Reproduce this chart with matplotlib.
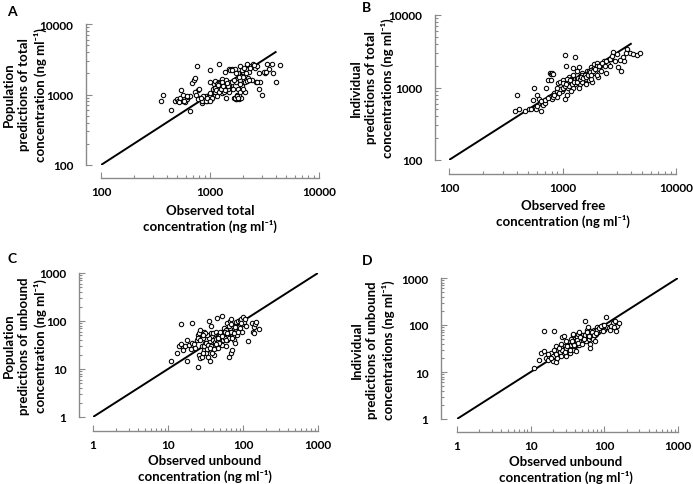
import matplotlib
matplotlib.use("Agg")
import matplotlib.pyplot as plt
from matplotlib.ticker import LogLocator, FixedLocator, NullFormatter

plt.rcParams['font.family'] = ['Lato', 'DejaVu Sans']
plt.rcParams['font.weight'] = 'bold'

# ---------------- data ----------------
obs_A = [370, 355, 440, 480, 500, 510, 530, 540, 560, 570, 590, 610, 630, 650, 660, 690, 710, 730, 760, 770,
         790, 730, 800, 820, 840, 860, 880, 900, 920, 940, 960, 980, 1000, 1000, 1020, 1040, 1060, 1080, 1100, 1100,
         1120, 1150, 1170, 1200, 1200, 1220, 1240, 1260, 1280, 1300, 1320, 1350, 1380, 1400, 1420, 1450, 1480, 1500, 1550, 1600,
         1650, 1700, 1720, 1750, 1780, 1800, 1820, 1850, 1880, 1900, 1920, 1950, 2000, 2050, 2100, 2150, 2200, 2250, 2300, 2400,
         2450, 2500, 2600, 2650, 2700, 2800, 2900, 3000, 3200, 3300, 3500, 3700, 3800, 4000, 4400,
         1150, 1250, 1300, 1350, 1400, 1100, 1180, 1300, 1450, 1500, 900, 950, 1000, 1050, 850, 870, 1750, 1800, 1850, 1900,
         2000, 2100, 2200, 2300, 1600, 1650, 2700, 2800, 2000, 2150,
         520, 580, 620, 750, 780, 830, 910, 930, 990, 1010, 1130, 1160, 1210, 1230, 1270, 1330, 1370, 1410, 1470, 1530,
         1580, 1620, 1680, 1730, 1760, 1790, 1830, 1870, 1960, 2050, 2350, 2550, 3100, 3250, 1430, 1190]
pred_A = [1000, 800, 600, 820, 850, 800, 880, 1150, 1000, 800, 780, 850, 920, 580, 950, 1450, 1600, 1700, 2500, 1150,
          1200, 1100, 900, 850, 750, 800, 900, 850, 950, 800, 900, 1000, 2250, 1500, 850, 900, 1200, 1400, 1550, 1000,
          1100, 1300, 950, 1500, 1250, 2700, 1150, 1350, 1650, 1050, 1200, 1400, 2100, 900, 1250, 1500, 2300, 1100, 1350, 2300,
          900, 2300, 850, 1500, 1000, 2000, 1200, 850, 1600, 2500, 900, 1300, 2100, 1600, 1100, 2300, 2700, 1700, 2100, 2500,
          1600, 2700, 2400, 1500, 2550, 1200, 1500, 1000, 2000, 2700, 2300, 2700, 2000, 1500, 2600,
          1200, 1300, 1250, 1100, 1350, 1250, 1450, 1500, 1200, 1350, 880, 850, 950, 880, 820, 950, 850, 900, 1000, 1100,
          1200, 1500, 1550, 1600, 1500, 1600, 1500, 2000, 1800, 2000,
          780, 820, 950, 1000, 850, 880, 820, 900, 820, 1050, 1150, 1400, 1100, 1300, 1200, 1300, 1150, 1600, 1300, 2200,
          2250, 1200, 880, 2000, 950, 880, 1800, 1400, 2200, 2400, 2400, 2600, 2100, 2100, 1450, 1350]

obs_B = [380, 400, 410, 470, 510, 530, 550, 560, 570, 590, 600, 620, 640, 660, 680, 700, 720, 740, 760, 770,
         790, 810, 830, 790, 800, 820, 850, 870, 900, 920, 950, 980, 1000, 1020, 1050, 1050, 1080, 1100, 1120, 1150,
         1180, 1200, 1230, 1250, 1280, 1300, 1320, 1350, 1380, 1400, 1420, 1450, 1480, 1500, 1550, 1600, 1650, 1700, 1720, 1750,
         1800, 1820, 1850, 1900, 1950, 2000, 2050, 2100, 2150, 2200, 2300, 2400, 2500, 2600, 2700, 2800, 2900, 3000, 3100, 3300,
         3400, 3500, 3700, 3900, 4200, 4500, 4800,
         600, 650, 700, 750, 850, 900, 950, 1000, 1050, 1100, 1150, 1200, 1250, 1300, 1350, 1400, 1450, 1500, 1600, 1700,
         1800, 1900, 2000, 2200, 2400, 2600, 1400, 1600, 1800, 2000, 1200, 900, 1000, 1100, 1250, 1350,
         1130, 1170, 1220, 1270, 1330, 1370, 1430, 1470, 1520, 1570, 1620, 1680, 1740, 1780, 1860, 1920, 2080, 2250, 2350, 2750,
         3200, 3600, 940, 1070]
pred_B = [470, 800, 510, 480, 500, 510, 670, 1000, 520, 500, 800, 700, 470, 600, 580, 620, 1000, 1250, 750, 1600,
          1550, 1600, 1550, 1250, 700, 750, 850, 780, 750, 1150, 1200, 900, 1250, 950, 700, 2800, 1950, 800, 1000, 1400,
          1100, 1300, 1850, 1000, 2600, 1100, 1200, 1500, 1250, 1900, 1100, 1350, 1600, 1200, 1450, 1300, 1700, 1250, 1500, 1600,
          1900, 1200, 1800, 2100, 1600, 2200, 1400, 1800, 2000, 1700, 2300, 1600, 2100, 2000, 2500, 3100, 2300, 2900, 1900, 1700,
          2600, 2300, 3400, 3000, 2900, 2800, 3000,
          560, 650, 680, 720, 780, 900, 950, 1000, 1050, 1100, 1150, 1150, 1250, 1300, 1300, 1400, 1450, 1500, 1550, 1700,
          1750, 1850, 1950, 2100, 2300, 2500, 1000, 1100, 1300, 1500, 900, 1000, 1150, 1300, 1500, 1700,
          1050, 1250, 1100, 1200, 1200, 1350, 1300, 1400, 1350, 1500, 1400, 1500, 1650, 1500, 1700, 1800, 2000, 2200, 2000, 2700,
          2400, 3000, 850, 1100]

obs_C = [11, 13, 14, 15, 15, 16, 16, 17, 18, 18, 19, 20, 21, 21, 22, 23, 24, 25, 25, 26,
         26, 27, 27, 28, 28, 29, 30, 30, 31, 32, 33, 34, 35, 35, 36, 37, 37, 38, 38, 39,
         40, 40, 41, 42, 43, 44, 45, 45, 46, 47, 48, 50, 51, 52, 52, 53, 54, 55, 56, 57,
         58, 60, 61, 62, 63, 64, 65, 66, 67, 68, 70, 70, 72, 73, 74, 75, 76, 78, 80, 82,
         84, 85, 88, 90, 92, 95, 97, 98, 100, 103, 105, 110, 115, 130, 135, 140, 145, 150, 165, 140,
         30, 32, 34, 36, 38, 40, 42, 44, 46, 48, 50, 35, 33, 31, 29, 55, 60, 65, 70, 75,
         25, 27, 29, 33, 36, 39, 41, 43, 47, 49, 53, 57, 59, 62, 66, 69, 72, 78, 86, 94]
pred_C = [15, 22, 30, 85, 33, 28, 25, 30, 40, 15, 32, 26, 90, 35, 33, 28, 40, 11, 50, 20,
          55, 65, 17, 18, 30, 45, 60, 25, 35, 22, 28, 18, 100, 30, 15, 80, 55, 40, 25, 33,
          55, 30, 20, 45, 28, 60, 115, 35, 50, 28, 50, 45, 38, 125, 60, 32, 40, 70, 50, 45,
          55, 30, 40, 90, 50, 60, 18, 45, 70, 100, 110, 22, 25, 80, 60, 40, 50, 35, 95, 50,
          75, 100, 65, 105, 70, 110, 85, 60, 120, 95, 110, 80, 38, 90, 60, 75, 85, 95, 68, 55,
          30, 35, 32, 38, 30, 40, 36, 42, 40, 35, 50, 45, 50, 55, 50, 55, 65, 55, 60, 55,
          45, 40, 22, 26, 28, 22, 26, 33, 45, 60, 48, 60, 40, 55, 80, 85, 45, 75, 60, 90]

obs_D = [11, 13, 14, 15, 15, 16, 17, 18, 19, 20, 21, 21, 22, 22, 23, 24, 25, 26, 27, 28,
         28, 29, 30, 30, 31, 32, 33, 34, 35, 36, 37, 38, 38, 40, 40, 41, 42, 43, 44, 45,
         46, 47, 48, 50, 51, 52, 54, 55, 56, 57, 58, 60, 62, 63, 64, 65, 66, 67, 68, 70,
         71, 72, 74, 75, 78, 80, 82, 85, 88, 90, 92, 95, 100, 105, 110, 115, 120, 130, 140, 145,
         150, 160,
         20, 22, 25, 27, 30, 33, 35, 38, 40, 45, 50, 55, 60, 65, 70, 75, 80, 85, 90, 100,
         17, 19, 24, 26, 29, 31, 34, 36, 39, 42, 44, 47, 49, 53, 58, 61, 69, 73, 77, 95,
         125, 135]
pred_D = [12, 18, 25, 75, 28, 20, 18, 22, 25, 17, 75, 30, 35, 16, 20, 25, 30, 40, 55, 28,
          58, 35, 45, 22, 30, 30, 38, 25, 50, 40, 30, 60, 65, 45, 35, 28, 55, 38, 65, 38,
          70, 48, 50, 45, 55, 60, 120, 55, 45, 65, 80, 90, 50, 40, 33, 75, 55, 65, 60, 70,
          50, 80, 60, 45, 65, 90, 70, 75, 80, 85, 95, 100, 80, 150, 90, 85, 80, 110, 120, 75,
          95, 110,
          22, 24, 26, 30, 32, 35, 38, 42, 40, 46, 52, 60, 62, 68, 65, 75, 80, 85, 95, 100,
          24, 20, 32, 22, 26, 35, 30, 45, 38, 48, 42, 55, 40, 50, 70, 58, 72, 60, 68, 75,
          95, 90]

line_A = [100, 4000]
line_B = [100, 4000]
line_C = [1, 1000]
line_D = [1, 1000]

panels = [
    dict(letter='A', x=obs_A, y=pred_A, line=line_A, lim=(100, 10000),
         ticks=[100, 1000, 10000], ticklabels=['100', '1000', '10000'],
         xlabel='Observed total\nconcentration (ng ml\u207b\u00b9)',
         ylabel='Population\npredictions of total\nconcentration (ng ml\u207b\u00b9)',
         rect_px=(101, 25, 319, 166), xsp=179, ysp=86, letter_px=(7, 12),
         xl_px=(210, 219), yl_px=(25, 95)),
    dict(letter='B', x=obs_B, y=pred_B, line=line_B, lim=(100, 10000),
         ticks=[100, 1000, 10000], ticklabels=['100', '1000', '10000'],
         xlabel='Observed free\nconcentration (ng ml\u207b\u00b9)',
         ylabel='Individual\npredictions of total\nconcentrations (ng ml\u207b\u00b9)',
         rect_px=(449, 16, 676, 161), xsp=175, ysp=435, letter_px=(362, 8),
         xl_px=(563, 214), yl_px=(372, 88)),
    dict(letter='C', x=obs_C, y=pred_C, line=line_C, lim=(1, 1000),
         ticks=[1, 10, 100, 1000], ticklabels=['1', '10', '100', '1000'],
         xlabel='Observed unbound\nconcentration (ng ml\u207b\u00b9)',
         ylabel='Population\npredictions of unbound\nconcentration (ng ml\u207b\u00b9)',
         rect_px=(93, 274, 318, 418), xsp=432, ysp=79, letter_px=(7, 259),
         xl_px=(205, 469), yl_px=(25, 346)),
    dict(letter='D', x=obs_D, y=pred_D, line=line_D, lim=(1, 1000),
         ticks=[1, 10, 100, 1000], ticklabels=['1', '10', '100', '1000'],
         xlabel='Observed unbound\nconcentration (ng ml\u207b\u00b9)',
         ylabel='Individual\npredictions of unbound\nconcentrations (ng ml\u207b\u00b9)',
         rect_px=(457, 279, 678, 420), xsp=433, ysp=441, letter_px=(362, 261),
         xl_px=(566, 470), yl_px=(373, 350)),
]

W, H = 693, 485
fig = plt.figure(figsize=(W / 100, H / 100), dpi=100)
spine_col = '#8a8a8a'

for p in panels:
    x0, y0, x1, y1 = p['rect_px']
    ax = fig.add_axes([x0 / W, 1 - y1 / H, (x1 - x0) / W, (y1 - y0) / H])
    ax.set_xscale('log')
    ax.set_yscale('log')
    ax.set_xlim(*p['lim'])
    ax.set_ylim(*p['lim'])
    ax.plot(p['line'], p['line'], color='black', lw=1.4, zorder=2)
    ax.scatter(p['x'], p['y'], s=10, facecolors='white', edgecolors='black',
               linewidths=0.75, zorder=3, clip_on=False)
    for s in ['top', 'right']:
        ax.spines[s].set_visible(False)
    ax.spines['bottom'].set_position(('outward', (p['xsp'] - y1) * 0.72))
    ax.spines['left'].set_position(('outward', (x0 - p['ysp']) * 0.72))
    for s in ['bottom', 'left']:
        ax.spines[s].set_color(spine_col)
        ax.spines[s].set_linewidth(1.0)
    ax.xaxis.set_major_locator(FixedLocator(p['ticks']))
    ax.yaxis.set_major_locator(FixedLocator(p['ticks']))
    ax.set_xticklabels(p['ticklabels'])
    ax.set_yticklabels(p['ticklabels'])
    ax.xaxis.set_minor_locator(LogLocator(base=10, subs=range(2, 10)))
    ax.yaxis.set_minor_locator(LogLocator(base=10, subs=range(2, 10)))
    ax.xaxis.set_minor_formatter(NullFormatter())
    ax.yaxis.set_minor_formatter(NullFormatter())
    ax.tick_params(which='both', direction='in', color=spine_col, width=0.8,
                   labelsize=8.5, labelcolor='black')
    ax.tick_params(which='major', length=4)
    ax.tick_params(which='minor', length=2.5)
    ax.tick_params(axis='x', pad=6)
    ax.tick_params(axis='y', pad=9)
    for lab in ax.get_xticklabels() + ax.get_yticklabels():
        lab.set_fontweight('bold')
    fig.text(p['letter_px'][0] / W, 1 - p['letter_px'][1] / H, p['letter'],
             fontsize=10, fontweight='bold', ha='left', va='center')
    fig.text(p['xl_px'][0] / W, 1 - p['xl_px'][1] / H, p['xlabel'],
             fontsize=9.5, fontweight='bold', ha='center', va='center',
             linespacing=1.25)
    fig.text(p['yl_px'][0] / W, 1 - p['yl_px'][1] / H, p['ylabel'],
             fontsize=9.5, fontweight='bold', ha='center', va='center',
             rotation=90, linespacing=1.3)

fig.savefig('out.png', dpi=100)
